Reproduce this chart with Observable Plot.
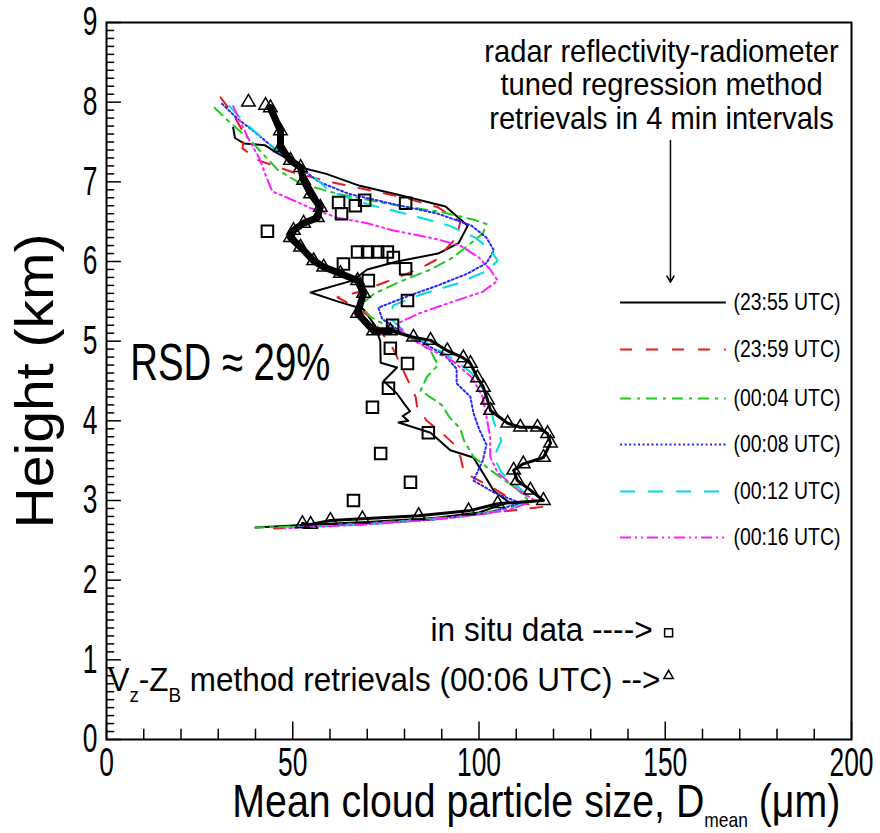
<!DOCTYPE html>
<html><head><meta charset="utf-8">
<script src="https://cdn.jsdelivr.net/npm/d3@7"></script>
<script src="https://cdn.jsdelivr.net/npm/@observablehq/plot@0.6"></script>
<style>body{margin:0;background:#fff}#chart{width:880px;height:833px}</style>
</head><body><div id="chart"></div>
<script>
// ---------- DATA ----------
const xTickLabels = [0, 50, 100, 150, 200];
const yTickLabels = [0, 1, 2, 3, 4, 5, 6, 7, 8, 9];

const seriesLabels = ["(23:55 UTC)", "(23:59 UTC)", "(00:04 UTC)", "(00:08 UTC)", "(00:12 UTC)", "(00:16 UTC)"];

// radar reflectivity-radiometer tuned regression retrievals: height (km) and Dmean (µm)
const h2355 = [7.68,7.55,7.48,7.46,7.37,7.17,7.10,6.95,6.82,6.69,6.45,6.23,6.10,6.00,5.90,5.76,5.61,5.50,5.40,5.20,5.00,4.73,4.67,4.50,4.34,4.21,4.12,4.06,4.00,3.98,3.85,3.63,3.54,3.35,3.12,2.98,2.85,2.78,2.73,2.70,2.66];
const v2355 = [34,34.5,37,42.5,45.5,53,59,68,80,91,97,94.5,89,78,70,66,54.8,62,69,72,73.5,73.6,78,74.4,78,80,81.5,79.5,81,78.4,87,92.3,98.5,101,104,108,100,88,70,55,40];

const h2359 = [8.06,7.85,7.60,7.42,7.27,7.12,7.00,6.90,6.80,6.68,6.50,6.30,6.15,6.05,5.91,5.76,5.62,5.55,5.45,5.30,5.10,4.90,4.70,4.50,4.30,4.17,4.00,3.85,3.72,3.55,3.35,3.15,2.98,2.92,2.86,2.78,2.72,2.68,2.65];
const v2359 = [30.6,34,37,36.5,40.8,50,60,70,80,89,95,94,91,89.7,84,76,68,62,66,71,74,77,79,81,83,83.4,86,90,93,95,96,104,110,117,106,92,75,58,45];

const h0004 = [7.93,7.75,7.55,7.35,7.15,6.98,6.85,6.72,6.62,6.52,6.47,6.35,6.20,6.05,5.90,5.75,5.60,5.45,5.30,5.15,5.00,4.88,4.70,4.55,4.38,4.20,4.05,3.90,3.75,3.55,3.35,3.15,3.02,2.90,2.80,2.73,2.68,2.66];
const v0004 = [29,33,38,42,46,52,62,76,90,99,102,101,97,93,87,79,72,68,71,77,83,87,89,86,84.3,90,92,95,96,98.5,104,110,113,108,95,75,55,40];

const h0008 = [7.98,7.80,7.58,7.38,7.18,7.00,6.85,6.72,6.60,6.45,6.30,6.14,5.98,5.85,5.70,5.55,5.42,5.28,5.12,4.98,4.82,4.65,4.47,4.30,4.10,3.90,3.70,3.50,3.25,3.10,2.97,2.85,2.76,2.70,2.67];
const v0008 = [31,35,41,46,52,57,65,77,89,98,102,104,102,97,89,80,73,74,79,85,91,94,94,97.7,98.5,100,102,101,98.5,104,111,103,88,68,52];

const h0012 = [7.95,7.75,7.50,7.25,7.05,6.88,6.72,6.58,6.45,6.30,6.15,6.01,5.88,5.72,5.58,5.45,5.30,5.12,4.95,4.78,4.60,4.40,4.20,3.98,3.75,3.55,3.35,3.15,3.00,2.88,2.78,2.70,2.66];
const v0012 = [33,37,43,50,56,60,70,82,92,99,103,105,102,94,84,77,76,80,87,93,98,101,103,104,106,104,106,111,114,108,92,70,50];

const h0016 = [7.95,7.75,7.55,7.30,7.05,6.88,6.80,6.67,6.55,6.48,6.39,6.29,6.20,6.05,5.90,5.76,5.62,5.48,5.35,5.22,5.08,4.92,4.75,4.55,4.30,4.05,3.80,3.55,3.35,3.15,3.00,2.88,2.78,2.70,2.65];
const v0016 = [34,36,38,41,43,44.5,48.6,54.8,62,70,77,87.8,95,100,103,105,101,92,84,78,80,86,93,98,101,102,103,103,105,110,115,108,92,70,48];

// Vz-ZB method retrievals (00:06 UTC)
const triH = [2.71,2.70,2.75,2.77,2.81,2.87,2.96,3.00,3.13,3.25,3.38,3.46,3.54,3.72,3.84,3.92,3.92,3.97,4.13,4.26,4.42,4.54,4.72,4.79,4.88,5.01,5.05,5.13,5.13,5.35,5.60,5.76,5.85,5.93,6.01,6.18,6.30,6.39,6.48,6.55,6.68,6.85,7.02,7.18,7.27,7.43,7.64,7.93,7.96,8.00];
const triV = [52.6,54.8,60.1,68.7,83.8,97.2,105,117.3,113.8,110.3,109.3,111.9,117.3,119.2,118.4,115.7,111.1,107.7,103.1,102.3,101.2,99.6,97.7,95.8,91.5,87.0,82.4,76.2,71.7,67.4,69.0,67.4,62.8,58.3,55.6,52.1,49.4,50.2,52.9,56.6,57.4,54.8,52.9,52.1,49.4,46.7,46.7,44.0,42.7,38.1];

// in situ data
const sqH = [6.38,6.74,6.60,6.70,6.77,6.73,6.12,6.12,6.12,6.12,6.05,5.91,5.97,5.76,5.51,5.20,4.91,4.72,4.41,4.17,3.85,3.59,3.23,3.00];
const sqV = [43.2,62.3,63.1,66.8,69.3,80.3,67.4,70.1,72.8,75.4,77.0,80.3,63.6,70.3,80.8,76.8,76.2,80.8,75.7,71.4,86.4,73.6,81.6,66.3];

// ---------- STYLES ----------
const colors = ["#000000", "#e41e1e", "#1ec81e", "#2828ff", "#00dcdc", "#ff1eff"];
const dashes = [null, "12,14", "11,6,3,6", "2,2.5", "15,13", "11,4,2,4,2,4"];
const seriesH = [h2355, h2359, h0004, h0008, h0012, h0016];
const seriesV = [v2355, v2359, v0004, v0008, v0012, v0016];

const tables = seriesH.map((hs, i) => hs.map((h, j) => ({h, v: seriesV[i][j]})));
const triData = triH.map((h, j) => ({h, v: triV[j]}));
const triUpper = triData.filter(d => d.h >= 5.13 && d.h <= 7.93);
const triLower = triData.filter(d => d.h <= 5.13);
const sqData = sqH.map((h, j) => ({h, v: sqV[j]}));

const xMinor = d3.range(0, 201, 10).filter(d => d % 50 !== 0);
const xMajor = d3.range(0, 201, 50);
const yMinor = d3.range(0, 90).map(d => d / 10).filter(d => Math.abs(d - Math.round(d)) > 1e-6);
const yMajor = d3.range(0, 10);

const legendRowsH = [5.485, 4.895, 4.28, 3.703, 3.113, 2.535];
const legendData = seriesLabels.map((label, i) => ({label, h: legendRowsH[i], i}));

const SANS = "'Liberation Sans', Arial, sans-serif";

const marks = [
  Plot.frame({stroke: "black", strokeWidth: 2}),
  Plot.ruleX(xMinor, {x: d => d, y1: 0, y2: 0.13, stroke: "black", strokeWidth: 1.5}),
  Plot.ruleX(xMajor, {x: d => d, y1: 0, y2: 0.22, stroke: "black", strokeWidth: 1.5}),
  Plot.ruleY(yMinor, {y: d => d, x1: 0, x2: 2.2, stroke: "black", strokeWidth: 1.5}),
  Plot.ruleY(yMajor, {y: d => d, x1: 0, x2: 4, stroke: "black", strokeWidth: 1.5}),
  Plot.axisX({ticks: xTickLabels, tickSize: 0, tickPadding: 8, fontSize: 40, label: null}),
  Plot.axisY({ticks: yTickLabels, tickSize: 0, tickPadding: 9, fontSize: 40, label: null}),
  ...tables.map((t, i) => Plot.line(t, {x: "v", y: "h", stroke: colors[i], strokeWidth: 2, strokeDasharray: dashes[i]})),
  Plot.line(triUpper, {x: "v", y: "h", stroke: "black", strokeWidth: 7, strokeLinejoin: "round"}),
  Plot.line(triLower, {x: "v", y: "h", stroke: "black", strokeWidth: 3}),
  Plot.dot(triData, {x: "v", y: "h", symbol: "triangle", r: 5, stroke: "black", strokeWidth: 1.5, fill: "none"}),
  Plot.dot(sqData, {x: "v", y: "h", symbol: "square", r: 6.5, stroke: "black", strokeWidth: 2, fill: "none"}),
  // legend
  ...legendData.map(d => Plot.ruleY([d], {y: "h", x1: 138, x2: 166.4, stroke: colors[d.i], strokeWidth: 2, strokeDasharray: dashes[d.i]})),
  Plot.text(legendData, {x: 168.3, y: "h", text: "label", textAnchor: "start", fontSize: 24}),
  // annotation
  Plot.text([{t: "radar reflectivity-radiometer\ntuned regression method\nretrievals in 4 min intervals", x: 149, y: 8.22}],
    {x: "x", y: "y", text: "t", fontSize: 32, lineHeight: 1.06, lineAnchor: "middle"}),
  Plot.arrow([{x: 151.4, y1: 7.52, y2: 5.74}], {x1: "x", x2: "x", y1: "y1", y2: "y2", stroke: "black", strokeWidth: 1.5, headLength: 7}),
  Plot.text([{t: "RSD ≈ 29%", x: 6.4, y: 4.72}], {x: "x", y: "y", text: "t", textAnchor: "start", fontSize: 52}),
  Plot.text([{t: "in situ data ---->", x: 146.6, y: 1.37}], {x: "x", y: "y", text: "t", textAnchor: "end", fontSize: 34}),
  Plot.dot([{x: 150.9, y: 1.34}], {x: "x", y: "y", symbol: "square", r: 4.5, stroke: "black", strokeWidth: 1.5, fill: "none"}),
  Plot.text([{t: "V_{z}-Z_{B} method retrievals (00:06 UTC) -->", x: 148.7, y: 0.74}], {x: "x", y: "y", text: "t", textAnchor: "end", fontSize: 34}),
  Plot.dot([{x: 150.9, y: 0.80}], {x: "x", y: "y", symbol: "triangle", r: 3.5, stroke: "black", strokeWidth: 1.5, fill: "none"}),
  // axis titles
  Plot.text([{t: "Mean cloud particle size, D_{mean} (μm)", x: 115.4, y: -0.79}], {x: "x", y: "y", text: "t", fontSize: 46}),
  Plot.text([{t: "Height (km)", x: -19.06, y: 4.5}], {x: "x", y: "y", text: "t", rotate: -90, fontSize: 54})
];

const chart = Plot.plot({
  width: 880, height: 833,
  marginLeft: 106, marginRight: 29, marginTop: 22, marginBottom: 94,
  x: {domain: [0, 200], axis: null},
  y: {domain: [0, 9], axis: null},
  style: {fontFamily: SANS, color: "black", background: "white", overflow: "visible"},
  marks
});

// subscripts
d3.select(chart).selectAll("text").each(function() {
  const txt = this.textContent;
  if (!txt.includes("_{")) return;
  const fs = parseFloat(this.getAttribute("font-size")) || 34;
  const el = d3.select(this);
  el.text(null);
  const parts = txt.split(/_\{([^}]*)\}/);
  let shifted = false;
  parts.forEach((p, k) => {
    if (p === "") return;
    const ts = el.append("tspan").text(p);
    if (k % 2 === 1) {
      ts.attr("font-size", fs * 0.6).attr("dy", fs * 0.3);
      shifted = true;
    } else if (shifted) {
      ts.attr("dy", -fs * 0.3);
      shifted = false;
    }
  });
});

document.getElementById("chart").append(chart);

// condense glyphs to match the narrow lettering of the reference
function squeeze(el, target) {
  el.setAttribute("textLength", target);
  el.setAttribute("lengthAdjust", "spacingAndGlyphs");
}
chart.querySelectorAll("text").forEach(t => {
  const s = t.textContent;
  const len = t.getComputedTextLength();
  if (/^\d+$/.test(s)) squeeze(t, len * 0.66);
  else if (s.startsWith("Mean cloud")) squeeze(t, 608);
  else if (s.startsWith("Height")) squeeze(t, 295);
  else if (s.startsWith("RSD")) squeeze(t, 200);
  else if (s.startsWith("in situ")) squeeze(t, 222);
  else if (s.includes("method retrievals")) squeeze(t, 552);
  else if (/^\(\d\d:\d\d UTC\)$/.test(s)) squeeze(t, 107);
  else if (s.startsWith("radar")) {
    t.querySelectorAll("tspan").forEach(ts => squeeze(ts, ts.getComputedTextLength() * 0.91));
  }
});
</script></body></html>
